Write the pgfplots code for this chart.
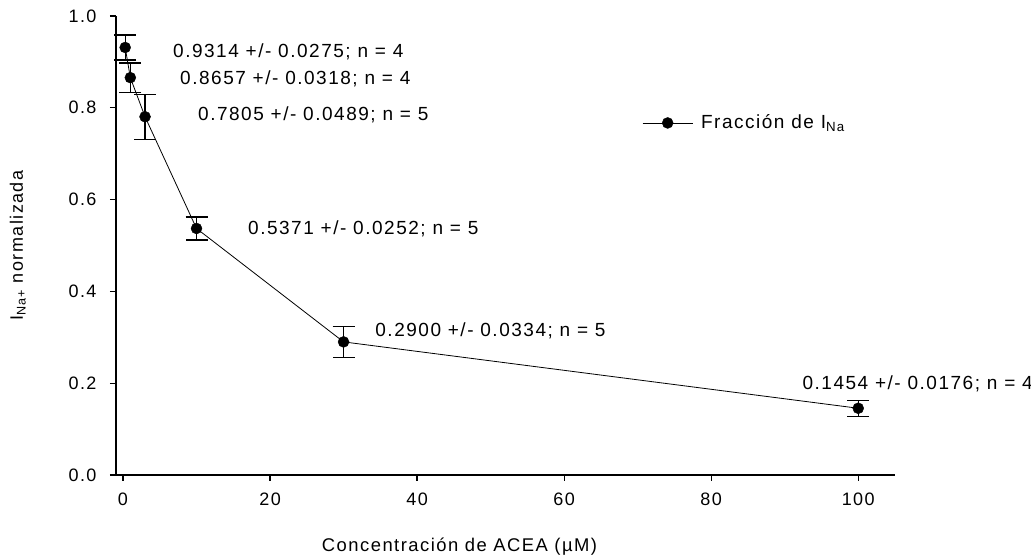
\documentclass[border=0pt]{standalone}
\usepackage{fontspec}
\setmainfont{Liberation Sans}[LetterSpace=8]
\usepackage{pgfplots}
\pgfplotsset{compat=1.18}
\pgfplotstableread{
x y e
0.3 0.9314 0.0275
1 0.8657 0.0318
3 0.7805 0.0489
10 0.5371 0.0252
30 0.2900 0.0334
100 0.1454 0.0176
}\datatable
\begin{document}
\fontsize{19}{22}\selectfont
\begin{tikzpicture}
\useasboundingbox (-116pt,-81pt) rectangle (915pt,475pt);
\begin{axis}[
  at={(0pt,0pt)}, anchor=south west,
  scale only axis, width=779pt, height=459pt,
  xmin=-0.95, xmax=105, ymin=0, ymax=1,
  axis x line*=bottom, axis y line*=left,
  x axis line style={-}, y axis line style={-},
  axis line style={line width=1.2pt},
  tick align=outside, major tick length=6pt,
  tick style={line width=1.2pt, black},
  xtick={0,20,40,60,80,100}, ytick={0,0.2,0.4,0.6,0.8,1.0},
  /pgf/number format/assume math mode=true,
  yticklabel={\pgfmathprintnumber[fixed,fixed zerofill,precision=1]{\tick}},
  ticklabel style={font=\fontsize{18}{21}\selectfont},
  xticklabel style={yshift=-5pt},
  yticklabel style={xshift=-7pt},
  xlabel={Concentración de ACEA (µM)},
  xlabel style={at={(axis description cs:0.441,-0.157)}, anchor=center, font=\fontsize{18.4}{21}\selectfont},
  ylabel={I\textsubscript{Na+} normalizada},
  ylabel style={at={(axis description cs:-0.126,0.5)}, anchor=center, font=\fontsize{18}{21}\selectfont},
  legend style={draw=none, fill=none, at={(axis cs:70.6,0.767)}, anchor=west, font=\fontsize{19}{22}\selectfont, inner xsep=0pt, inner ysep=0pt},
  legend image code/.code={\draw[mark repeat=2,mark phase=2] plot coordinates {(0pt,0pt)(25pt,0pt)(50pt,0pt)}; \path (56pt,0pt);},
  clip=false,
]
\addplot[black, line width=0.8pt, mark=*, mark size=5.5pt, mark options={line width=0.4pt},
  error bars/.cd, y dir=both, y explicit,
  error bar style={line width=1.3pt},
  error mark options={rotate=90, mark size=11pt, line width=1.3pt}]
  table[x=x, y=y, y error=e] {\datatable};
\addlegendentry{Fracción de I\textsubscript{Na}}
\node[anchor=base west, inner sep=0pt] at (axis cs:6.8,0.9085) {0.9314 +/- 0.0275; n = 4};
\node[anchor=base west, inner sep=0pt] at (axis cs:7.76,0.8497) {0.8657 +/- 0.0318; n = 4};
\node[anchor=base west, inner sep=0pt] at (axis cs:10.2,0.7734) {0.7805 +/- 0.0489; n = 5};
\node[anchor=base west, inner sep=0pt] at (axis cs:17.0,0.5229) {0.5371 +/- 0.0252; n = 5};
\node[anchor=base west, inner sep=0pt] at (axis cs:34.3,0.3028) {0.2900 +/- 0.0334; n = 5};
\node[anchor=base west, inner sep=0pt] at (axis cs:92.4,0.1852) {0.1454 +/- 0.0176; n = 4};
\end{axis}
\end{tikzpicture}
\end{document}
